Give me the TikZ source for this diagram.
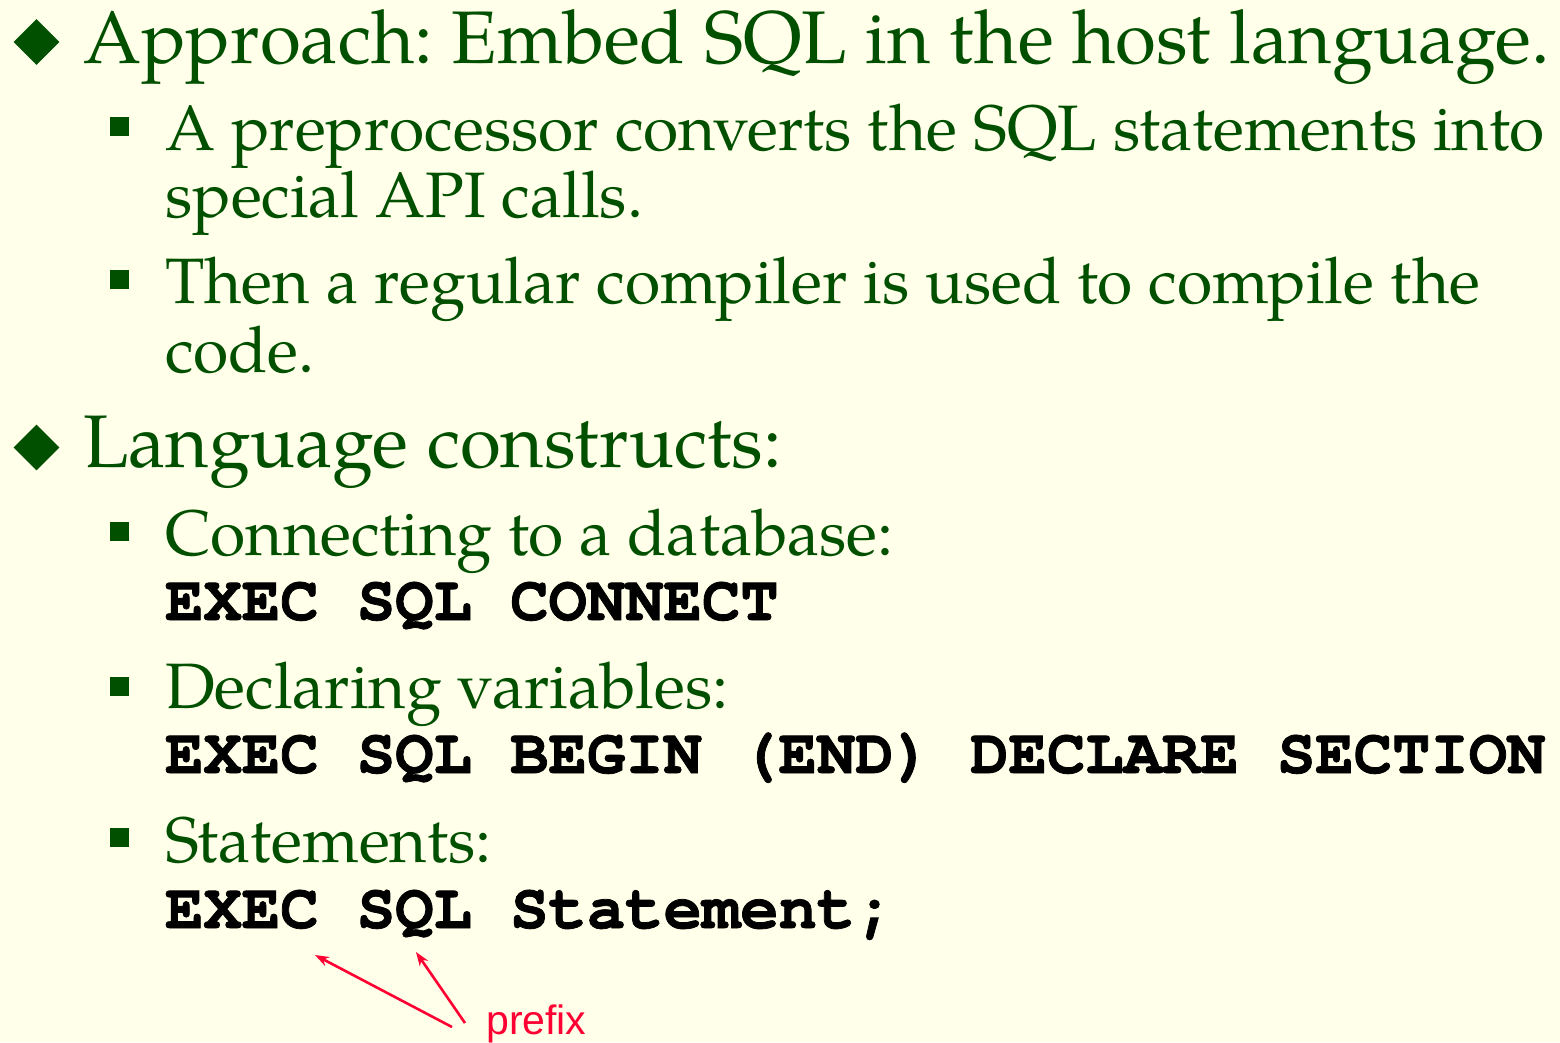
\documentclass[tikz,border=0pt]{standalone}
\usepackage{fontspec}
\setmainfont{texgyrepagella}[Extension=.otf, UprightFont=*-regular, BoldFont=*-bold, ItalicFont=*-italic, BoldItalicFont=*-bolditalic]
\newfontfamily\codefont{texgyrecursor}[Extension=.otf, UprightFont=*-bold, BoldFont=*-bold, FakeBold=1.2]
\newfontfamily\notefont{Liberation Sans}
\usetikzlibrary{arrows.meta, shapes.geometric}
\definecolor{slidebg}{RGB}{255,255,234}
\definecolor{slidegreen}{RGB}{0,80,0}
\definecolor{notered}{RGB}{255,0,51}
\frenchspacing
\tikzset{
    top item/.style={anchor=base west, inner sep=0pt, text=slidegreen, font=\fontsize{74.5}{80}\selectfont}, % first level text
    sub item/.style={anchor=base west, inner sep=0pt, text=slidegreen, font=\fontsize{64.2}{67}\selectfont}, % second level text
    code line/.style={anchor=base west, inner sep=0pt, text=black, font=\codefont\fontsize{63.9}{70}\selectfont}, % SQL code
    top mark/.style={diamond, fill=slidegreen, inner sep=0pt, minimum size=46pt}, % diamond bullet
    sub mark/.style={rectangle, fill=slidegreen, inner sep=0pt, minimum size=19pt} % square bullet
}

\begin{document}
\begin{tikzpicture}[x=1pt, y=-1pt]
    \def\topx{83} \def\subx{165} \def\markx{119.5}
    \fill[slidebg] (0,0) rectangle (1560,1042);
    \useasboundingbox (0,0) rectangle (1560,1042);

    % approach
    \node[top mark] (m1) at (36.5,42) {};
    \node[top item] (approach) at (\topx,63) {Approach: Embed SQL in the host language.};
    \node[sub mark] (m11) at (\markx,126.5) {};
    \node[sub item] (pre1) at (\subx,150) {A preprocessor converts the SQL statements into};
    \node[sub item] (pre2) at (\subx,217) {special API calls.};
    \node[sub mark] (m12) at (\markx,279) {};
    \node[sub item] (comp1) at (\subx,303) {Then a regular compiler is used to compile the};
    \node[sub item] (comp2) at (\subx,372) {code.};

    % constructs
    \node[top mark] (m2) at (36.5,447.5) {};
    \node[top item] (constructs) at (\topx,467) {Language constructs:};
    \node[sub mark] (m21) at (\markx,531.5) {};
    \node[sub item] (connect) at (\subx,555) {Connecting to a database:};
    \node[code line] (connectcode) at (\subx,620) {EXEC SQL CONNECT};
    \node[sub mark] (m22) at (\markx,686) {};
    \node[sub item] (declare) at (\subx,708) {Declaring variables:};
    \node[code line] (declarecode) at (\subx,773) {EXEC SQL BEGIN (END) DECLARE SECTION};
    \node[sub mark] (m23) at (\markx,837.5) {};
    \node[sub item] (stmt) at (\subx,862) {Statements:};
    \node[code line] (stmtcode) at (\subx,928) {EXEC SQL Statement;};

    % prefix note
    \node[anchor=base west, inner sep=0pt, text=notered, font=\notefont\fontsize{41}{44}\selectfont] (prefix) at (486,1034) {prefix};
    \coordinate (tailexec) at (452,1027);
    \coordinate (tailsql) at (465,1023);
    \coordinate (headexec) at (315,955);
    \coordinate (headsql) at (416,952);
    \draw[notered, line width=2.6pt, -{Stealth[length=14pt, width=10pt]}] (tailexec) -- (headexec);
    \draw[notered, line width=2.6pt, -{Stealth[length=14pt, width=10pt]}] (tailsql) -- (headsql);
\end{tikzpicture}
\end{document}
